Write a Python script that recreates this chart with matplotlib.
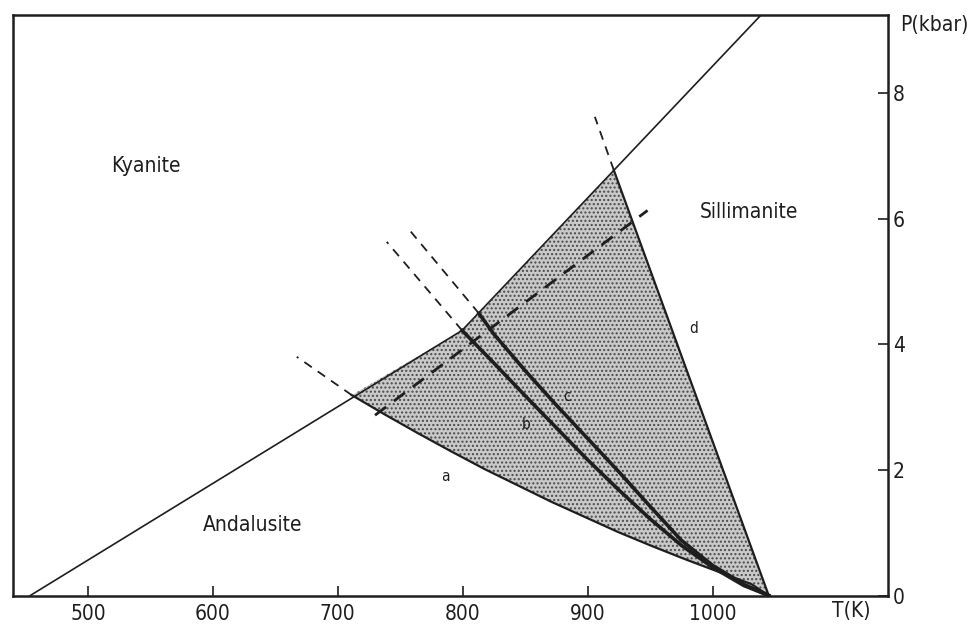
import numpy as np
import matplotlib
matplotlib.use("Agg")
from matplotlib import pyplot as plt

# boundary Kyanite / (Andalusite, Sillimanite), kink at the triple point of curve b
T_bound = [453.8, 799.5, 1045.0]
P_bound = [0.0, 4.22, 9.37]

# Andalusite / Sillimanite curves a..d (T in K, P in kbar), all ending at 1045 K
T_a = [711.2, 737.8, 764.5, 791.2, 817.8, 844.5, 871.2, 897.8, 924.5, 951.2, 977.8, 1004.5, 1031.2, 1045.0]
P_a = [3.19, 2.88, 2.58, 2.29, 2.01, 1.75, 1.49, 1.25, 1.01, 0.79, 0.58, 0.38, 0.18, 0.0]
T_b = [799.5, 825.0, 850.0, 875.0, 900.0, 925.0, 950.0, 975.0, 1000.0, 1025.0, 1045.0]
P_b = [4.22, 3.70, 3.18, 2.67, 2.16, 1.68, 1.22, 0.80, 0.45, 0.16, 0.0]
T_c = [813.0, 825.0, 850.0, 875.0, 900.0, 925.0, 950.0, 975.0, 1000.0, 1025.0, 1045.0]
P_c = [4.49, 4.16, 3.58, 3.03, 2.50, 1.97, 1.42, 0.88, 0.48, 0.18, 0.0]
T_d = [921.0, 1045.0]
P_d = [6.77, 0.0]

# metastable (dashed) extensions beyond the boundary
ext_T = {"a": [711.2, 667.2], "b": [799.5, 739.2], "c": [813.0, 755.2], "d": [921.0, 905.8]}
ext_P = {"a": [3.19, 3.80], "b": [4.22, 5.63], "c": [4.49, 5.87], "d": [6.77, 7.62]}

# thick dashed line across the field
T_dash = [729.8, 948.0]
P_dash = [2.87, 6.13]

# labels
curve_lbl = ["a", "b", "c", "d"]
curve_lbl_T = [785.8, 850.6, 883.2, 984.5]
curve_lbl_P = [1.89, 2.73, 3.17, 4.25]
phase_lbl = ["Kyanite", "Andalusite", "Sillimanite"]
phase_lbl_T = [546.6, 631.8, 1029.0]
phase_lbl_P = [6.84, 1.12, 6.11]

x_ticks = [500, 600, 700, 800, 900, 1000]
y_ticks = [0, 2, 4, 6, 8]

font = dict(family="DejaVu Sans", stretch="condensed")
ink = "#1e1e1e"

fig = plt.figure(figsize=(9.78, 6.27), dpi=100)
ax = fig.add_axes([0.0133, 0.0502, 0.8947, 0.9258])

# shaded field: curve a, line d, then back along the boundary
poly_T = np.concatenate([T_a, [921.0, 813.0, 799.5]])
poly_P = np.concatenate([P_a, [6.77, 4.49, 4.22]])
ax.fill(poly_T, poly_P, facecolor="#c9c9c9", edgecolor="#4a4a4a",
        linewidth=0, hatch="....", zorder=1)

ax.plot(T_bound, P_bound, color=ink, lw=1.2, zorder=3)
ax.plot(T_a, P_a, color=ink, lw=1.6, zorder=3)
ax.plot(T_d, P_d, color=ink, lw=1.6, zorder=3)
ax.plot(T_b, P_b, color=ink, lw=2.6, zorder=3)
ax.plot(T_c, P_c, color=ink, lw=2.6, zorder=3)

for k in ext_T:
    ax.plot(ext_T[k], ext_P[k], color=ink, lw=1.3, dashes=(5, 4), zorder=3)
ax.plot(T_dash, P_dash, color=ink, lw=2.0, dashes=(5, 3.5), zorder=3)

for s, t, p in zip(curve_lbl, curve_lbl_T, curve_lbl_P):
    ax.text(t, p, s, fontsize=11, ha="center", va="center", color=ink, **font)
for s, t, p in zip(phase_lbl, phase_lbl_T, phase_lbl_P):
    ax.text(t, p, s, fontsize=15, ha="center", va="center", color=ink, **font)

ax.set_xlim(440, 1140.5)
ax.set_ylim(0, 9.24)
ax.set_xticks(x_ticks)
ax.set_yticks(y_ticks)
ax.yaxis.tick_right()
ax.tick_params(axis="both", direction="in", length=7, width=1.2, color=ink,
               labelsize=15, labelcolor=ink)
ax.tick_params(axis="x", pad=6)
for lab in ax.get_xticklabels() + ax.get_yticklabels():
    lab.set_fontstretch("condensed")
for sp in ax.spines.values():
    sp.set_linewidth(1.8)
    sp.set_color(ink)

ax.text(1.0137, 0.983, "P(kbar)", transform=ax.transAxes, fontsize=15,
        ha="left", va="center", color=ink, **font)
ax.text(0.958, -0.027, "T(K)", transform=ax.transAxes, fontsize=15,
        ha="center", va="center", color=ink, **font)

fig.savefig("out.png", dpi=100)
